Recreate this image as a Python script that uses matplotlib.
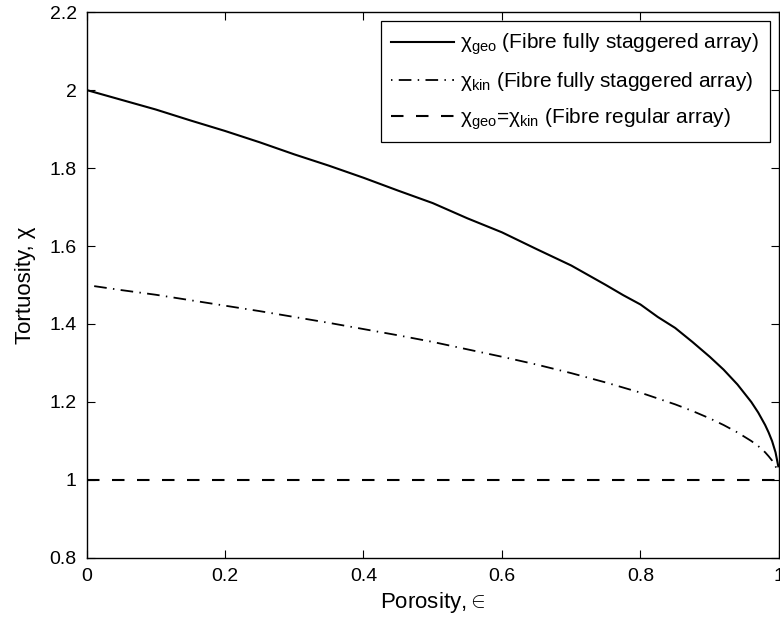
import matplotlib.pyplot as plt
from matplotlib.ticker import FuncFormatter

plt.rcParams['font.family'] = ['Liberation Sans', 'DejaVu Sans']
plt.rcParams['mathtext.fontset'] = 'custom'
plt.rcParams['mathtext.rm'] = 'Liberation Sans'
plt.rcParams['mathtext.it'] = 'Liberation Sans'

# porosity values
eps = [0.0, 0.05, 0.1, 0.15, 0.2, 0.25, 0.3, 0.35, 0.4, 0.45, 0.5, 0.55, 0.6,
       0.65, 0.7, 0.75, 0.775, 0.8, 0.825, 0.85, 0.875, 0.9, 0.92, 0.94,
       0.96, 0.97, 0.98, 0.985, 0.99, 0.995, 0.999]

# geometric tortuosity, fully staggered array
chi_geo = [2.00, 1.975, 1.95, 1.922, 1.895, 1.866, 1.835, 1.806, 1.775, 1.742,
           1.71, 1.671, 1.635, 1.592, 1.55, 1.50, 1.474, 1.45, 1.418, 1.39,
           1.354, 1.316, 1.283, 1.245, 1.20, 1.173, 1.141, 1.122, 1.10, 1.071,
           1.035]

# kinematic tortuosity, fully staggered array
chi_kin = [1.50, 1.487, 1.475, 1.461, 1.447, 1.433, 1.418, 1.403, 1.387, 1.371,
           1.354, 1.335, 1.316, 1.296, 1.274, 1.25, 1.237, 1.224, 1.209, 1.194,
           1.177, 1.158, 1.141, 1.122, 1.10, 1.087, 1.071, 1.061, 1.05, 1.035,
           1.02]

# regular array
eps_reg = [0.0, 1.0]
chi_reg = [1.0, 1.0]

xticks = [0, 0.2, 0.4, 0.6, 0.8, 1]
yticks = [0.8, 1, 1.2, 1.4, 1.6, 1.8, 2, 2.2]

fig = plt.figure(figsize=(7.8, 6.22), dpi=100)
ax = fig.add_axes([0.1109, 0.1029, 0.8878, 0.8778])

ax.plot(eps, chi_geo, color='black', lw=1.5,
        label=r'χ$_{\mathrm{geo}}$ (Fibre fully staggered array)')
ax.plot(eps, chi_kin, color='black', lw=1.3,
        linestyle=(10.5, (7, 3.5, 0.8, 3.5)),
        label=r'χ$_{\mathrm{kin}}$ (Fibre fully staggered array)')
ax.plot(eps_reg, chi_reg, color='black', lw=1.5, dashes=(6, 6),
        label=r'χ$_{\mathrm{geo}}$=χ$_{\mathrm{kin}}$ (Fibre regular array)')

ax.set_xlim(0, 1)
ax.set_ylim(0.8, 2.2)
ax.set_xticks(xticks)
ax.set_yticks(yticks)
fmt = FuncFormatter(lambda v, p: '%g' % v)
ax.xaxis.set_major_formatter(fmt)
ax.yaxis.set_major_formatter(fmt)
ax.tick_params(direction='in', length=6, width=0.8, top=True, right=True,
               labelsize=14, pad=7, colors='black')
for s in ax.spines.values():
    s.set_linewidth(1.0)

ax.set_xlabel(r'Porosity,$\in$', fontsize=16, labelpad=4)
ax.set_ylabel('Tortuosity, χ', fontsize=16, labelpad=10)

leg = ax.legend(loc='upper right', fontsize=15, frameon=True, fancybox=False,
                edgecolor='black', framealpha=1, handlelength=3.0,
                handletextpad=0.3, labelspacing=0.62, borderpad=0.5,
                borderaxespad=0.45)
leg.get_frame().set_linewidth(0.9)

fig.savefig('out.png', dpi=100)
